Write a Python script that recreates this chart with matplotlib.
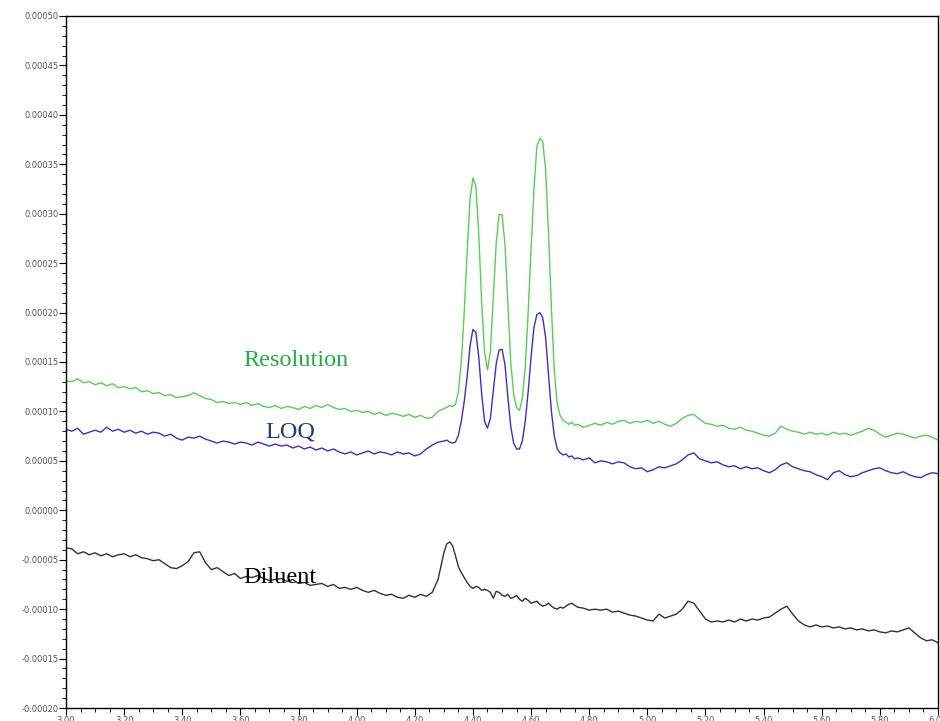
import numpy as np
import matplotlib
matplotlib.use('Agg')
import matplotlib.pyplot as plt
from matplotlib.ticker import MultipleLocator, FormatStrFormatter

# time grid (min): coarse baseline, finer sampling across the peak cluster
t_pre = np.round(np.arange(3.00, 4.281, 0.02), 2)
t_peak = np.round(np.arange(4.30, 4.761, 0.01), 2)
t_post = np.round(np.arange(4.78, 6.001, 0.02), 2)
time_min = np.concatenate([t_pre, t_peak, t_post])

# absorbance in units of 1e-5 AU
resolution_pre = [13.1, 13.0, 13.3, 12.9, 13.0, 12.7, 12.9, 12.6, 12.8, 12.4,
                  12.5, 12.3, 12.4, 12.0, 12.1, 11.8, 11.9, 11.6, 11.7, 11.4,
                  11.5, 11.6, 11.9, 11.6, 11.3, 11.2, 10.9, 11.0, 10.8, 10.9,
                  10.7, 10.9, 10.6, 10.8, 10.5, 10.4, 10.6, 10.3, 10.5, 10.4,
                  10.2, 10.5, 10.3, 10.6, 10.4, 10.7, 10.4, 10.2, 10.3, 10.0,
                  10.1, 9.9, 10.0, 9.7, 9.9, 9.6, 9.8, 9.7, 9.5, 9.7,
                  9.4, 9.6, 9.3, 9.4, 10.0]
resolution_peak = [10.3, 10.4, 10.6, 10.5, 10.7, 12.0, 15.0, 20.0, 26.0, 31.5,
                   33.6, 32.8, 28.0, 21.0, 16.0, 14.2, 16.0, 21.5, 27.0, 29.9,
                   29.9, 27.0, 21.0, 15.0, 11.8, 10.4, 10.1, 11.3, 14.5, 20.0,
                   26.5, 32.5, 36.8, 37.6, 37.3, 34.5, 28.0, 20.5, 14.0, 10.8,
                   9.6, 9.1, 8.9, 8.7, 8.9, 8.6, 8.7]
resolution_post = [8.4, 8.6, 8.8, 8.6, 8.9, 8.7, 9.0, 9.1, 8.8, 9.0, 8.9, 9.1,
                   8.8, 9.0, 8.7, 8.5, 8.8, 9.3, 9.6, 9.7, 9.2, 8.8,
                   8.7, 8.5, 8.6, 8.3, 8.2, 8.4, 8.1, 8.0, 7.8, 7.6,
                   7.5, 7.8, 8.5, 8.2, 8.0, 7.9, 7.7, 7.9, 7.7, 7.8,
                   7.6, 7.9, 7.7, 7.8, 7.6, 7.8, 8.0, 8.3, 8.1, 7.7,
                   7.4, 7.6, 7.8, 7.7, 7.5, 7.3, 7.5, 7.6, 7.4, 7.1]

loq_pre = [8.2, 8.0, 8.3, 7.7, 7.9, 8.1, 7.9, 8.4, 8.0, 8.2,
           7.9, 8.1, 7.8, 8.0, 7.7, 7.9, 7.8, 7.5, 7.7, 7.3,
           7.1, 7.4, 7.3, 7.5, 7.2, 7.0, 6.8, 7.0, 6.9, 6.7,
           6.9, 6.8, 6.6, 6.9, 6.7, 6.5, 6.7, 6.5, 6.6, 6.3,
           6.5, 6.2, 6.4, 6.1, 6.3, 6.0, 6.2, 5.9, 5.7, 5.9,
           5.6, 5.8, 6.0, 5.7, 5.9, 5.8, 5.6, 5.9, 5.7, 5.8,
           5.5, 5.7, 6.2, 6.6, 6.9]
loq_peak = [7.0, 7.1, 6.9, 6.8, 6.9, 7.6, 9.0, 11.0, 13.5, 16.6,
            18.3, 18.0, 15.5, 11.8, 9.0, 8.3, 9.3, 12.0, 14.8, 16.2,
            16.3, 14.8, 11.5, 8.5, 6.8, 6.2, 6.2, 7.0, 9.0, 12.0,
            15.5, 18.5, 19.8, 20.0, 19.5, 17.5, 13.8, 10.0, 7.5, 6.2,
            5.8, 5.6, 5.7, 5.4, 5.5, 5.2, 5.3]
loq_post = [5.1, 5.3, 4.8, 5.0, 4.9, 4.7, 4.9, 4.8, 4.4, 4.2, 4.3, 3.9,
            4.1, 4.4, 4.3, 4.5, 4.7, 5.1, 5.6, 5.8, 5.2, 5.0,
            4.8, 4.9, 4.6, 4.4, 4.5, 4.2, 4.4, 4.2, 4.3, 4.0,
            3.8, 4.1, 4.6, 4.8, 4.4, 4.2, 4.0, 3.9, 3.6, 3.4,
            3.1, 3.8, 4.0, 3.6, 3.4, 3.5, 3.8, 4.0, 4.2, 4.3,
            4.0, 3.8, 3.7, 3.9, 3.6, 3.4, 3.3, 3.6, 3.8, 3.7]

diluent_pre = [-3.8, -3.9, -4.4, -4.2, -4.5, -4.3, -4.6, -4.4, -4.7, -4.5,
               -4.4, -4.7, -4.5, -4.8, -4.9, -5.1, -5.0, -5.4, -5.8, -5.9,
               -5.6, -5.2, -4.3, -4.2, -5.3, -6.0, -5.8, -6.2, -6.6, -6.4,
               -6.9, -6.7, -6.8, -6.6, -6.9, -7.1, -7.0, -6.9, -7.2, -7.0,
               -7.4, -7.3, -7.6, -7.5, -7.4, -7.7, -7.5, -7.9, -7.8, -8.0,
               -7.8, -8.1, -8.3, -8.1, -8.4, -8.6, -8.5, -8.8, -8.9, -8.6,
               -8.8, -8.5, -8.7, -8.3, -7.0]
diluent_peak = [-4.3, -3.4, -3.2, -3.6, -4.6, -5.7, -6.3, -6.8, -7.3, -7.7,
                -7.9, -7.7, -7.8, -8.1, -8.0, -8.1, -8.3, -8.9, -8.2, -8.3,
                -8.6, -8.7, -8.5, -8.9, -8.8, -8.6, -9.0, -9.2, -8.9, -9.1,
                -9.4, -9.3, -9.2, -9.5, -9.7, -9.6, -9.4, -9.7, -9.9, -10.0,
                -9.8, -9.9, -9.7, -9.5, -9.4, -9.6, -9.8]
diluent_post = [-9.9, -10.1, -10.0, -10.1, -10.0, -10.3, -10.2, -10.4, -10.6, -10.7, -10.9, -11.1,
                -11.2, -10.5, -10.9, -10.7, -10.5, -10.0, -9.2, -9.4, -10.2, -11.0,
                -11.3, -11.2, -11.3, -11.1, -11.3, -11.0, -11.2, -11.0, -11.1, -10.9,
                -10.8, -10.4, -10.0, -9.7, -10.5, -11.2, -11.6, -11.8, -11.6, -11.8,
                -11.7, -11.9, -11.8, -12.0, -11.9, -12.1, -12.0, -12.2, -12.1, -12.3,
                -12.4, -12.2, -12.3, -12.1, -11.9, -12.4, -12.9, -13.2, -13.1, -13.4]

resolution = np.array(resolution_pre + resolution_peak + resolution_post) * 1e-5
loq = np.array(loq_pre + loq_peak + loq_post) * 1e-5
diluent = np.array(diluent_pre + diluent_peak + diluent_post) * 1e-5

fig = plt.figure(figsize=(9.4, 7.21), dpi=100)
ax = fig.add_axes([66 / 940, 1 - 708 / 721, 872 / 940, 692 / 721])

ax.plot(time_min, resolution, color='#55d055', lw=1.0)
ax.plot(time_min, loq, color='#3a30c8', lw=1.0)
ax.plot(time_min, diluent, color='#333333', lw=1.0)

# trace labels
ax.text(3.609, 15.2e-5, 'Resolution', color='#22b040', fontsize=17.5,
        family='Liberation Serif', va='center', ha='left')
ax.text(3.685, 7.9e-5, 'LOQ', color='#1f3a80', fontsize=17.5,
        family='Liberation Serif', va='center', ha='left')
ax.text(3.609, -6.8e-5, 'Diluent', color='black', fontsize=17.5,
        family='Liberation Serif', va='center', ha='left')

ax.set_xlim(3.0, 6.0)
ax.set_ylim(-0.0002, 0.0005)
ax.xaxis.set_major_locator(MultipleLocator(0.2))
ax.xaxis.set_minor_locator(MultipleLocator(0.05))
ax.yaxis.set_major_locator(MultipleLocator(0.00005))
ax.yaxis.set_minor_locator(MultipleLocator(0.00001))
ax.xaxis.set_major_formatter(FormatStrFormatter('%.2f'))
ax.yaxis.set_major_formatter(FormatStrFormatter('%.5f'))
ax.tick_params(which='major', direction='out', length=5, width=0.8,
               labelsize=6, labelcolor='#555555', pad=0.5)
ax.tick_params(which='minor', direction='out', length=3, width=0.6)
ax.set_ylabel('AU', fontsize=6, color='#777777', labelpad=14)

for s in ax.spines.values():
    s.set_linewidth(1.0)
    s.set_color('black')

fig.savefig('out.png', dpi=100)
